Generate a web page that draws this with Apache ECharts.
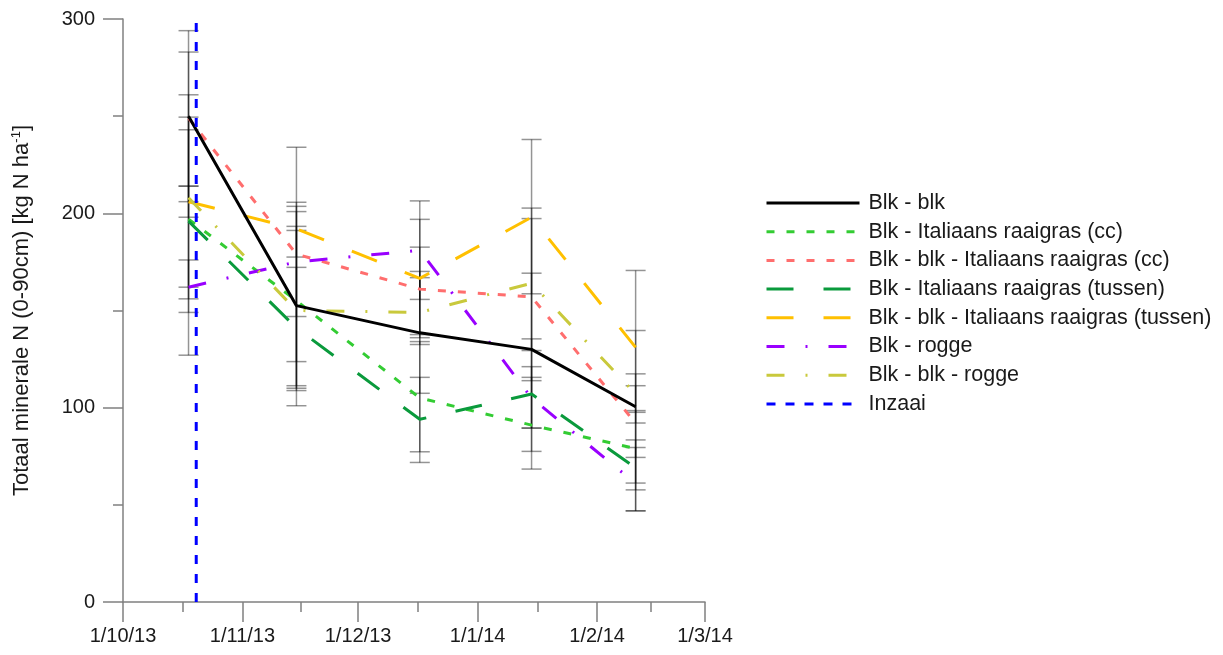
<!DOCTYPE html>
<html>
<head>
<meta charset="utf-8">
<script src="https://cdn.jsdelivr.net/npm/echarts@6/dist/echarts.min.js"></script>
<style>
  html, body { margin: 0; padding: 0; background: #ffffff; }
  #chart { width: 1223px; height: 655px; }
</style>
</head>
<body>
<div id="chart"></div>
<script>
// ---------- data ----------
const sampleDates = ['2013-10-18', '2013-11-15', '2013-12-17', '2014-01-15', '2014-02-11'];
const sowingDate = '2013-10-20';
const monthTicks = ['2013-10-01', '2013-11-01', '2013-12-01', '2014-01-01', '2014-02-01', '2014-03-01'];
const xMinDate = '2013-10-01';
const xMaxDate = '2014-03-01';
const yMin = 0, yMax = 300, yInterval = 100;

const seriesNames = [
  'Blk - blk',
  'Blk - Italiaans raaigras (cc)',
  'Blk - blk - Italiaans raaigras (cc)',
  'Blk - Italiaans raaigras (tussen)',
  'Blk - blk - Italiaans raaigras (tussen)',
  'Blk - rogge',
  'Blk - blk - rogge',
  'Inzaai'
];

const blkBlk          = [250, 152.5, 138.5, 130, 100.5];
const blkIrCc         = [197, 155, 105, 91, 79];
const blkBlkIrCc      = [249, 179, 161, 157, 92];
const blkIrTussen     = [196, 141, 94, 107, 69];
const blkBlkIrTussen  = [206, 192, 166.5, 198, 131];
const blkRogge        = [162, 175, 181, 105, 61];
const blkBlkRogge     = [208, 150, 149, 164, 107];

// error bar ends (upper / lower)
const blkBlkHi         = [294, 203.6, 170.1, 169.2, 139.7];
const blkBlkLo         = [206, 101, 107.4, 89.5, 61.2];
const blkIrCcHi        = [249.5, 193.3, 134, 115.6, 98.5];
const blkIrCcLo        = [162, 111.3, 77.3, 68.4, 57.7];
const blkBlkIrCcHi     = [283, 234, 182.6, 202.7, 111.3];
const blkBlkIrCcLo     = [214, 123.7, 137.6, 113.9, 74.4];
const blkIrTussenHi    = [243, 172.2, 115.6, 121.1, 83.4];
const blkIrTussenLo    = [149, 110, 71.8, 89.5, 46.9];
const blkBlkIrTussenHi = [214, 205.7, 196.9, 238, 170.6];
const blkBlkIrTussenLo = [198, 177.5, 136, 158.6, 92.1];
const blkRoggeHi       = [176, 200.9, 206.4, 135.4, 79.5];
const blkRoggeLo       = [127, 146.9, 155.7, 77.5, 46.9];
const blkBlkRoggeHi    = [261, 191.2, 166.9, 197.3, 117.4];
const blkBlkRoggeLo    = [156, 108.8, 132.5, 129.4, 97.6];

// ---------- helpers ----------
const DAY = 86400000;
function utc(s) { const p = s.split('-').map(Number); return Date.UTC(p[0], p[1] - 1, p[2]); }
const origin = utc(xMinDate);
function dayOf(s) { return Math.round((utc(s) - origin) / DAY); }
function dayLabel(v) {
  const d = new Date(origin + Math.round(v) * DAY);
  return d.getUTCDate() + '/' + (d.getUTCMonth() + 1) + '/' + String(d.getUTCFullYear()).slice(2);
}
const FONT = "'Liberation Sans', Arial, sans-serif";

const xs = sampleDates.map(dayOf);
const monthDays = monthTicks.map(dayOf);
const midDays = [];
for (let i = 0; i < monthDays.length - 1; i++) midDays.push((monthDays[i] + monthDays[i + 1]) / 2);

const means = [blkBlk, blkIrCc, blkBlkIrCc, blkIrTussen, blkBlkIrTussen, blkRogge, blkBlkRogge];
const his = [blkBlkHi, blkIrCcHi, blkBlkIrCcHi, blkIrTussenHi, blkBlkIrTussenHi, blkRoggeHi, blkBlkRoggeHi];
const los = [blkBlkLo, blkIrCcLo, blkBlkIrCcLo, blkIrTussenLo, blkBlkIrTussenLo, blkRoggeLo, blkBlkRoggeLo];

const styles = [
  { color: '#000000', type: 'solid' },
  { color: '#33cc33', type: [8, 12] },
  { color: '#ff6e6e', type: [8, 12] },
  { color: '#0a9a3c', type: [27, 30] },
  { color: '#ffc000', type: [27, 30] },
  { color: '#9900ff', type: [18, 21, 2, 21] },
  { color: '#c9c93c', type: [18, 21, 2, 21] }
];

const errData = [];
for (let s = 0; s < his.length; s++) {
  for (let i = 0; i < xs.length; i++) errData.push([xs[i], los[s][i], his[s][i]]);
}

const series = [];
series.push({
  type: 'custom',
  name: 'err',
  silent: true,
  z: 1,
  data: errData,
  encode: { x: 0, y: [1, 2] },
  renderItem: function (params, api) {
    const lo = api.coord([api.value(0), api.value(1)]);
    const hi = api.coord([api.value(0), api.value(2)]);
    const hw = 10;
    const st = { stroke: 'rgba(0,0,0,0.42)', lineWidth: 1.5, fill: null };
    return {
      type: 'group',
      children: [
        { type: 'line', shape: { x1: lo[0], y1: lo[1], x2: hi[0], y2: hi[1] }, style: st },
        { type: 'line', shape: { x1: lo[0] - hw, y1: lo[1], x2: lo[0] + hw, y2: lo[1] }, style: st },
        { type: 'line', shape: { x1: hi[0] - hw, y1: hi[1], x2: hi[0] + hw, y2: hi[1] }, style: st }
      ]
    };
  }
});

for (let s = 0; s < means.length; s++) {
  series.push({
    type: 'line',
    name: seriesNames[s],
    data: xs.map((x, i) => [x, means[s][i]]),
    symbol: 'none',
    z: s === 0 ? 4 : 3,
    color: styles[s].color,
    lineStyle: { color: styles[s].color, width: 3, type: styles[s].type, cap: 'butt' }
  });
}
series.push({
  type: 'line',
  name: seriesNames[7],
  data: [[dayOf(sowingDate), yMin], [dayOf(sowingDate), yMax]],
  symbol: 'none',
  z: 5,
  color: '#0000ff',
  lineStyle: { color: '#0000ff', width: 3, type: [9, 10], cap: 'butt' }
});

const axisGrey = '#808080';

const option = {
  animation: false,
  backgroundColor: '#ffffff',
  textStyle: { fontFamily: FONT },
  grid: { left: 123, top: 19, right: 518, bottom: 53, containLabel: false },
  legend: {
    orient: 'vertical',
    left: 760,
    top: 187,
    itemWidth: 93,
    itemHeight: 14,
    itemGap: 6.7,
    data: seriesNames,
    selectedMode: false,
    itemStyle: { opacity: 0, color: 'rgba(0,0,0,0)', borderWidth: 0 },
    lineStyle: { width: 3 },
    textStyle: { fontSize: 21.5, color: '#1a1a1a', fontFamily: FONT, lineHeight: 22, padding: [0, 0, 0, 4] }
  },
  xAxis: [
    {
      type: 'value',
      min: monthDays[0],
      max: monthDays[monthDays.length - 1],
      axisLine: { show: true, lineStyle: { color: axisGrey, width: 1.5 } },
      axisTick: { show: true, length: 20, inside: false, customValues: monthDays, lineStyle: { color: axisGrey, width: 1.5 } },
      axisLabel: {
        show: true,
        customValues: monthDays,
        fontSize: 20,
        color: '#1a1a1a',
        margin: 24,
        fontFamily: FONT,
        formatter: dayLabel
      },
      splitLine: { show: false }
    },
    {
      type: 'value',
      position: 'bottom',
      min: monthDays[0],
      max: monthDays[monthDays.length - 1],
      axisLine: { show: false },
      axisTick: { show: true, length: 10, customValues: midDays, lineStyle: { color: axisGrey, width: 1.5 } },
      axisLabel: { show: false },
      splitLine: { show: false }
    }
  ],
  yAxis: {
    type: 'value',
    min: yMin,
    max: yMax,
    interval: yInterval,
    name: 'Totaal minerale N (0-90cm) [kg N ha{sup|-1}]',
    nameLocation: 'middle',
    nameGap: 89,
    nameRotate: 90,
    nameTextStyle: {
      fontSize: 22, color: '#1a1a1a', fontFamily: FONT, lineHeight: 24,
      rich: { sup: { fontSize: 13, verticalAlign: 'top', lineHeight: 24, color: '#1a1a1a', fontFamily: FONT } }
    },
    axisLine: { show: true, lineStyle: { color: axisGrey, width: 1.5 } },
    axisTick: { show: true, length: 20, lineStyle: { color: axisGrey, width: 1.5 } },
    minorTick: { show: true, splitNumber: 2, length: 10, lineStyle: { color: axisGrey, width: 1.5 } },
    axisLabel: { fontSize: 20, color: '#1a1a1a', margin: 28, fontFamily: FONT },
    splitLine: { show: false },
    minorSplitLine: { show: false }
  },
  series: series
};

const chart = echarts.init(document.getElementById('chart'), null, { renderer: 'canvas' });
chart.setOption(option);
</script>
</body>
</html>
